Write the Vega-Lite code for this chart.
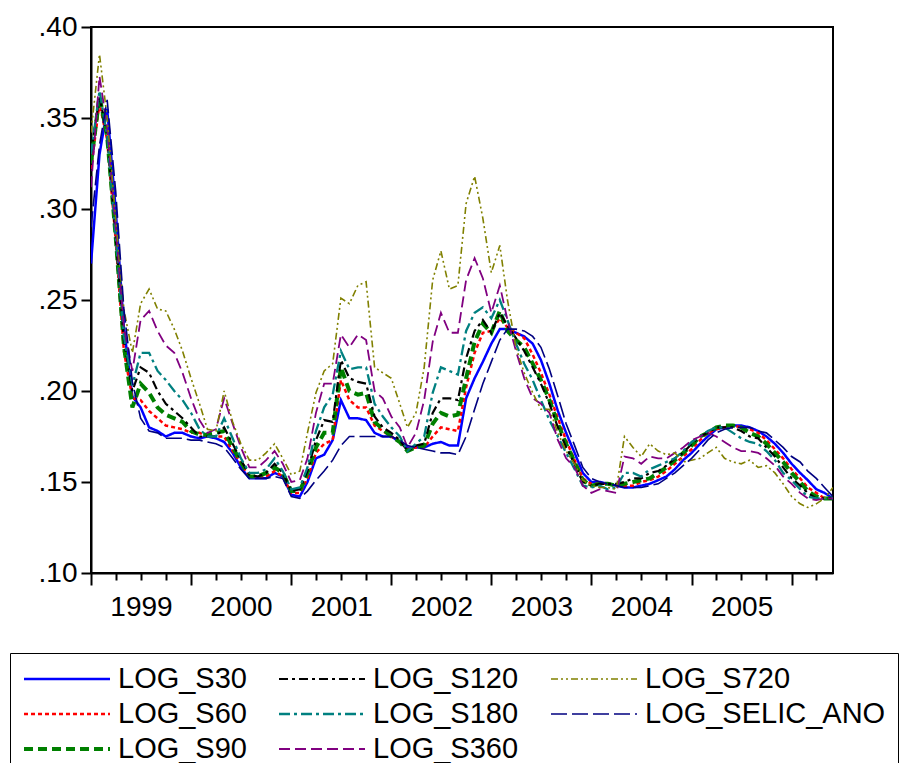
{
  "$schema": "https://vega.github.io/schema/vega-lite/v6.json",
  "width": 742,
  "height": 546,
  "autosize": "none",
  "padding": {"left": 91, "top": 27, "right": 70, "bottom": 190},
  "background": "white",
  "config": {
    "font": "Liberation Sans",
    "view": {"stroke": "black", "strokeWidth": 2},
    "axis": {"labelColor": "black", "tickColor": "black", "domainColor": "black", "labelFont": "Liberation Sans", "grid": false, "domainWidth": 2, "tickWidth": 2},
    "legend": {
      "orient": "none", "legendX": -81, "legendY": 626,
      "columns": 3, "strokeColor": "black", "padding": 12,
      "symbolType": "stroke", "symbolSize": 7396, "labelFontSize": 29, "labelFont": "Liberation Sans", "labelColor": "black",
      "labelOffset": 6, "columnPadding": 30, "rowPadding": 6, "clipHeight": 28, "labelLimit": 400
    }
  },
  "data": {"values": [
    {"date":"1999-01-01","LOG_S30":0.270,"LOG_S60":0.322,"LOG_S90":0.325,"LOG_S120":0.330,"LOG_S180":0.330,"LOG_S360":0.312,"LOG_S720":0.342,"LOG_SELIC_ANO":0.290},
    {"date":"1999-02-01","LOG_S30":0.330,"LOG_S60":0.358,"LOG_S90":0.362,"LOG_S120":0.362,"LOG_S180":0.365,"LOG_S360":0.373,"LOG_S720":0.385,"LOG_SELIC_ANO":0.335},
    {"date":"1999-03-01","LOG_S30":0.355,"LOG_S60":0.338,"LOG_S90":0.340,"LOG_S120":0.340,"LOG_S180":0.340,"LOG_S360":0.345,"LOG_S720":0.350,"LOG_SELIC_ANO":0.360},
    {"date":"1999-04-01","LOG_S30":0.300,"LOG_S60":0.283,"LOG_S90":0.285,"LOG_S120":0.285,"LOG_S180":0.285,"LOG_S360":0.290,"LOG_S720":0.295,"LOG_SELIC_ANO":0.310},
    {"date":"1999-05-01","LOG_S30":0.235,"LOG_S60":0.222,"LOG_S90":0.225,"LOG_S120":0.228,"LOG_S180":0.230,"LOG_S360":0.235,"LOG_S720":0.245,"LOG_SELIC_ANO":0.245},
    {"date":"1999-06-01","LOG_S30":0.197,"LOG_S60":0.196,"LOG_S90":0.191,"LOG_S120":0.200,"LOG_S180":0.203,"LOG_S360":0.211,"LOG_S720":0.221,"LOG_SELIC_ANO":0.205},
    {"date":"1999-07-01","LOG_S30":0.191,"LOG_S60":0.195,"LOG_S90":0.204,"LOG_S120":0.213,"LOG_S180":0.221,"LOG_S360":0.239,"LOG_S720":0.248,"LOG_SELIC_ANO":0.185},
    {"date":"1999-08-01","LOG_S30":0.180,"LOG_S60":0.189,"LOG_S90":0.199,"LOG_S120":0.210,"LOG_S180":0.221,"LOG_S360":0.244,"LOG_S720":0.256,"LOG_SELIC_ANO":0.178},
    {"date":"1999-09-01","LOG_S30":0.178,"LOG_S60":0.185,"LOG_S90":0.191,"LOG_S120":0.200,"LOG_S180":0.211,"LOG_S360":0.233,"LOG_S720":0.245,"LOG_SELIC_ANO":0.177},
    {"date":"1999-10-01","LOG_S30":0.175,"LOG_S60":0.181,"LOG_S90":0.187,"LOG_S120":0.193,"LOG_S180":0.206,"LOG_S360":0.225,"LOG_S720":0.244,"LOG_SELIC_ANO":0.174},
    {"date":"1999-11-01","LOG_S30":0.177,"LOG_S60":0.180,"LOG_S90":0.185,"LOG_S120":0.189,"LOG_S180":0.200,"LOG_S360":0.221,"LOG_S720":0.234,"LOG_SELIC_ANO":0.174},
    {"date":"1999-12-01","LOG_S30":0.177,"LOG_S60":0.179,"LOG_S90":0.183,"LOG_S120":0.185,"LOG_S180":0.195,"LOG_S360":0.210,"LOG_S720":0.222,"LOG_SELIC_ANO":0.174},
    {"date":"2000-01-01","LOG_S30":0.175,"LOG_S60":0.177,"LOG_S90":0.178,"LOG_S120":0.180,"LOG_S180":0.188,"LOG_S360":0.196,"LOG_S720":0.207,"LOG_SELIC_ANO":0.173},
    {"date":"2000-02-01","LOG_S30":0.174,"LOG_S60":0.177,"LOG_S90":0.176,"LOG_S120":0.175,"LOG_S180":0.179,"LOG_S360":0.184,"LOG_S720":0.193,"LOG_SELIC_ANO":0.173},
    {"date":"2000-03-01","LOG_S30":0.175,"LOG_S60":0.175,"LOG_S90":0.176,"LOG_S120":0.175,"LOG_S180":0.175,"LOG_S360":0.177,"LOG_S720":0.179,"LOG_SELIC_ANO":0.172},
    {"date":"2000-04-01","LOG_S30":0.174,"LOG_S60":0.175,"LOG_S90":0.177,"LOG_S120":0.175,"LOG_S180":0.175,"LOG_S360":0.179,"LOG_S720":0.178,"LOG_SELIC_ANO":0.171},
    {"date":"2000-05-01","LOG_S30":0.172,"LOG_S60":0.175,"LOG_S90":0.178,"LOG_S120":0.180,"LOG_S180":0.185,"LOG_S360":0.196,"LOG_S720":0.200,"LOG_SELIC_ANO":0.169},
    {"date":"2000-06-01","LOG_S30":0.166,"LOG_S60":0.167,"LOG_S90":0.169,"LOG_S120":0.171,"LOG_S180":0.174,"LOG_S360":0.182,"LOG_S720":0.183,"LOG_SELIC_ANO":0.163},
    {"date":"2000-07-01","LOG_S30":0.158,"LOG_S60":0.160,"LOG_S90":0.161,"LOG_S120":0.162,"LOG_S180":0.163,"LOG_S360":0.169,"LOG_S720":0.171,"LOG_SELIC_ANO":0.157},
    {"date":"2000-08-01","LOG_S30":0.152,"LOG_S60":0.153,"LOG_S90":0.153,"LOG_S120":0.154,"LOG_S180":0.155,"LOG_S360":0.158,"LOG_S720":0.162,"LOG_SELIC_ANO":0.152},
    {"date":"2000-09-01","LOG_S30":0.152,"LOG_S60":0.153,"LOG_S90":0.153,"LOG_S120":0.153,"LOG_S180":0.155,"LOG_S360":0.158,"LOG_S720":0.162,"LOG_SELIC_ANO":0.152},
    {"date":"2000-10-01","LOG_S30":0.152,"LOG_S60":0.153,"LOG_S90":0.155,"LOG_S120":0.155,"LOG_S180":0.157,"LOG_S360":0.162,"LOG_S720":0.166,"LOG_SELIC_ANO":0.152},
    {"date":"2000-11-01","LOG_S30":0.155,"LOG_S60":0.156,"LOG_S90":0.158,"LOG_S120":0.160,"LOG_S180":0.163,"LOG_S360":0.167,"LOG_S720":0.171,"LOG_SELIC_ANO":0.153},
    {"date":"2000-12-01","LOG_S30":0.153,"LOG_S60":0.153,"LOG_S90":0.155,"LOG_S120":0.155,"LOG_S180":0.156,"LOG_S360":0.160,"LOG_S720":0.163,"LOG_SELIC_ANO":0.152},
    {"date":"2001-01-01","LOG_S30":0.143,"LOG_S60":0.144,"LOG_S90":0.145,"LOG_S120":0.145,"LOG_S180":0.146,"LOG_S360":0.150,"LOG_S720":0.154,"LOG_SELIC_ANO":0.142},
    {"date":"2001-02-01","LOG_S30":0.142,"LOG_S60":0.144,"LOG_S90":0.145,"LOG_S120":0.146,"LOG_S180":0.147,"LOG_S360":0.151,"LOG_S720":0.156,"LOG_SELIC_ANO":0.141},
    {"date":"2001-03-01","LOG_S30":0.150,"LOG_S60":0.152,"LOG_S90":0.155,"LOG_S120":0.156,"LOG_S180":0.158,"LOG_S360":0.163,"LOG_S720":0.177,"LOG_SELIC_ANO":0.145},
    {"date":"2001-04-01","LOG_S30":0.163,"LOG_S60":0.166,"LOG_S90":0.169,"LOG_S120":0.173,"LOG_S180":0.178,"LOG_S360":0.188,"LOG_S720":0.199,"LOG_SELIC_ANO":0.151},
    {"date":"2001-05-01","LOG_S30":0.165,"LOG_S60":0.171,"LOG_S90":0.177,"LOG_S120":0.184,"LOG_S180":0.191,"LOG_S360":0.204,"LOG_S720":0.211,"LOG_SELIC_ANO":0.156},
    {"date":"2001-06-01","LOG_S30":0.173,"LOG_S60":0.173,"LOG_S90":0.177,"LOG_S120":0.183,"LOG_S180":0.198,"LOG_S360":0.204,"LOG_S720":0.215,"LOG_SELIC_ANO":0.162},
    {"date":"2001-07-01","LOG_S30":0.195,"LOG_S60":0.206,"LOG_S90":0.213,"LOG_S120":0.217,"LOG_S180":0.222,"LOG_S360":0.231,"LOG_S720":0.251,"LOG_SELIC_ANO":0.170},
    {"date":"2001-08-01","LOG_S30":0.185,"LOG_S60":0.195,"LOG_S90":0.200,"LOG_S120":0.207,"LOG_S180":0.212,"LOG_S360":0.224,"LOG_S720":0.248,"LOG_SELIC_ANO":0.175},
    {"date":"2001-09-01","LOG_S30":0.185,"LOG_S60":0.191,"LOG_S90":0.198,"LOG_S120":0.205,"LOG_S180":0.213,"LOG_S360":0.231,"LOG_S720":0.258,"LOG_SELIC_ANO":0.175},
    {"date":"2001-10-01","LOG_S30":0.184,"LOG_S60":0.191,"LOG_S90":0.199,"LOG_S120":0.204,"LOG_S180":0.213,"LOG_S360":0.228,"LOG_S720":0.260,"LOG_SELIC_ANO":0.175},
    {"date":"2001-11-01","LOG_S30":0.177,"LOG_S60":0.181,"LOG_S90":0.183,"LOG_S120":0.186,"LOG_S180":0.193,"LOG_S360":0.200,"LOG_S720":0.213,"LOG_SELIC_ANO":0.175},
    {"date":"2001-12-01","LOG_S30":0.175,"LOG_S60":0.178,"LOG_S90":0.179,"LOG_S120":0.180,"LOG_S180":0.186,"LOG_S360":0.196,"LOG_S720":0.210,"LOG_SELIC_ANO":0.175},
    {"date":"2002-01-01","LOG_S30":0.175,"LOG_S60":0.175,"LOG_S90":0.175,"LOG_S120":0.177,"LOG_S180":0.180,"LOG_S360":0.186,"LOG_S720":0.207,"LOG_SELIC_ANO":0.175},
    {"date":"2002-02-01","LOG_S30":0.172,"LOG_S60":0.172,"LOG_S90":0.172,"LOG_S120":0.173,"LOG_S180":0.175,"LOG_S360":0.180,"LOG_S720":0.193,"LOG_SELIC_ANO":0.173},
    {"date":"2002-03-01","LOG_S30":0.169,"LOG_S60":0.168,"LOG_S90":0.167,"LOG_S120":0.167,"LOG_S180":0.167,"LOG_S360":0.169,"LOG_S720":0.180,"LOG_SELIC_ANO":0.170},
    {"date":"2002-04-01","LOG_S30":0.169,"LOG_S60":0.169,"LOG_S90":0.169,"LOG_S120":0.170,"LOG_S180":0.171,"LOG_S360":0.177,"LOG_S720":0.188,"LOG_SELIC_ANO":0.169},
    {"date":"2002-05-01","LOG_S30":0.169,"LOG_S60":0.169,"LOG_S90":0.170,"LOG_S120":0.171,"LOG_S180":0.175,"LOG_S360":0.195,"LOG_S720":0.213,"LOG_SELIC_ANO":0.168},
    {"date":"2002-06-01","LOG_S30":0.171,"LOG_S60":0.175,"LOG_S90":0.182,"LOG_S120":0.188,"LOG_S180":0.199,"LOG_S360":0.227,"LOG_S720":0.261,"LOG_SELIC_ANO":0.167},
    {"date":"2002-07-01","LOG_S30":0.172,"LOG_S60":0.180,"LOG_S90":0.188,"LOG_S120":0.196,"LOG_S180":0.213,"LOG_S360":0.243,"LOG_S720":0.277,"LOG_SELIC_ANO":0.166},
    {"date":"2002-08-01","LOG_S30":0.170,"LOG_S60":0.179,"LOG_S90":0.186,"LOG_S120":0.196,"LOG_S180":0.211,"LOG_S360":0.232,"LOG_S720":0.256,"LOG_SELIC_ANO":0.166},
    {"date":"2002-09-01","LOG_S30":0.170,"LOG_S60":0.178,"LOG_S90":0.187,"LOG_S120":0.195,"LOG_S180":0.209,"LOG_S360":0.232,"LOG_S720":0.258,"LOG_SELIC_ANO":0.165},
    {"date":"2002-10-01","LOG_S30":0.196,"LOG_S60":0.202,"LOG_S90":0.207,"LOG_S120":0.218,"LOG_S180":0.233,"LOG_S360":0.261,"LOG_S720":0.303,"LOG_SELIC_ANO":0.175},
    {"date":"2002-11-01","LOG_S30":0.207,"LOG_S60":0.221,"LOG_S90":0.227,"LOG_S120":0.233,"LOG_S180":0.243,"LOG_S360":0.273,"LOG_S720":0.318,"LOG_SELIC_ANO":0.190},
    {"date":"2002-12-01","LOG_S30":0.216,"LOG_S60":0.232,"LOG_S90":0.237,"LOG_S120":0.239,"LOG_S180":0.246,"LOG_S360":0.262,"LOG_S720":0.295,"LOG_SELIC_ANO":0.204},
    {"date":"2003-01-01","LOG_S30":0.226,"LOG_S60":0.233,"LOG_S90":0.232,"LOG_S120":0.232,"LOG_S180":0.240,"LOG_S360":0.243,"LOG_S720":0.265,"LOG_SELIC_ANO":0.216},
    {"date":"2003-02-01","LOG_S30":0.234,"LOG_S60":0.240,"LOG_S90":0.244,"LOG_S120":0.243,"LOG_S180":0.250,"LOG_S360":0.258,"LOG_S720":0.280,"LOG_SELIC_ANO":0.228},
    {"date":"2003-03-01","LOG_S30":0.234,"LOG_S60":0.235,"LOG_S90":0.233,"LOG_S120":0.236,"LOG_S180":0.239,"LOG_S360":0.239,"LOG_S720":0.250,"LOG_SELIC_ANO":0.234},
    {"date":"2003-04-01","LOG_S30":0.232,"LOG_S60":0.232,"LOG_S90":0.228,"LOG_S120":0.229,"LOG_S180":0.226,"LOG_S360":0.222,"LOG_S720":0.224,"LOG_SELIC_ANO":0.234},
    {"date":"2003-05-01","LOG_S30":0.230,"LOG_S60":0.229,"LOG_S90":0.224,"LOG_S120":0.222,"LOG_S180":0.215,"LOG_S360":0.207,"LOG_S720":0.210,"LOG_SELIC_ANO":0.233},
    {"date":"2003-06-01","LOG_S30":0.226,"LOG_S60":0.220,"LOG_S90":0.215,"LOG_S120":0.213,"LOG_S180":0.206,"LOG_S360":0.196,"LOG_S720":0.199,"LOG_SELIC_ANO":0.230},
    {"date":"2003-07-01","LOG_S30":0.217,"LOG_S60":0.210,"LOG_S90":0.206,"LOG_S120":0.204,"LOG_S180":0.195,"LOG_S360":0.193,"LOG_S720":0.190,"LOG_SELIC_ANO":0.224},
    {"date":"2003-08-01","LOG_S30":0.204,"LOG_S60":0.198,"LOG_S90":0.195,"LOG_S120":0.193,"LOG_S180":0.184,"LOG_S360":0.188,"LOG_S720":0.190,"LOG_SELIC_ANO":0.212},
    {"date":"2003-09-01","LOG_S30":0.189,"LOG_S60":0.185,"LOG_S90":0.182,"LOG_S120":0.180,"LOG_S180":0.175,"LOG_S360":0.173,"LOG_S720":0.177,"LOG_SELIC_ANO":0.197},
    {"date":"2003-10-01","LOG_S30":0.177,"LOG_S60":0.173,"LOG_S90":0.171,"LOG_S120":0.169,"LOG_S180":0.166,"LOG_S360":0.163,"LOG_S720":0.167,"LOG_SELIC_ANO":0.182},
    {"date":"2003-11-01","LOG_S30":0.166,"LOG_S60":0.162,"LOG_S90":0.161,"LOG_S120":0.160,"LOG_S180":0.157,"LOG_S360":0.158,"LOG_S720":0.160,"LOG_SELIC_ANO":0.170},
    {"date":"2003-12-01","LOG_S30":0.155,"LOG_S60":0.152,"LOG_S90":0.151,"LOG_S120":0.150,"LOG_S180":0.148,"LOG_S360":0.148,"LOG_S720":0.151,"LOG_SELIC_ANO":0.158},
    {"date":"2004-01-01","LOG_S30":0.150,"LOG_S60":0.149,"LOG_S90":0.148,"LOG_S120":0.148,"LOG_S180":0.147,"LOG_S360":0.144,"LOG_S720":0.148,"LOG_SELIC_ANO":0.152},
    {"date":"2004-02-01","LOG_S30":0.150,"LOG_S60":0.149,"LOG_S90":0.149,"LOG_S120":0.149,"LOG_S180":0.148,"LOG_S360":0.146,"LOG_S720":0.147,"LOG_SELIC_ANO":0.150},
    {"date":"2004-03-01","LOG_S30":0.149,"LOG_S60":0.149,"LOG_S90":0.149,"LOG_S120":0.149,"LOG_S180":0.146,"LOG_S360":0.145,"LOG_S720":0.147,"LOG_SELIC_ANO":0.149},
    {"date":"2004-04-01","LOG_S30":0.148,"LOG_S60":0.148,"LOG_S90":0.148,"LOG_S120":0.149,"LOG_S180":0.147,"LOG_S360":0.144,"LOG_S720":0.146,"LOG_SELIC_ANO":0.148},
    {"date":"2004-05-01","LOG_S30":0.147,"LOG_S60":0.148,"LOG_S90":0.149,"LOG_S120":0.150,"LOG_S180":0.155,"LOG_S360":0.164,"LOG_S720":0.175,"LOG_SELIC_ANO":0.147},
    {"date":"2004-06-01","LOG_S30":0.147,"LOG_S60":0.148,"LOG_S90":0.150,"LOG_S120":0.152,"LOG_S180":0.155,"LOG_S360":0.163,"LOG_S720":0.169,"LOG_SELIC_ANO":0.147},
    {"date":"2004-07-01","LOG_S30":0.148,"LOG_S60":0.150,"LOG_S90":0.151,"LOG_S120":0.152,"LOG_S180":0.153,"LOG_S360":0.160,"LOG_S720":0.164,"LOG_SELIC_ANO":0.147},
    {"date":"2004-08-01","LOG_S30":0.149,"LOG_S60":0.151,"LOG_S90":0.152,"LOG_S120":0.155,"LOG_S180":0.157,"LOG_S360":0.164,"LOG_S720":0.171,"LOG_SELIC_ANO":0.148},
    {"date":"2004-09-01","LOG_S30":0.151,"LOG_S60":0.153,"LOG_S90":0.155,"LOG_S120":0.156,"LOG_S180":0.159,"LOG_S360":0.163,"LOG_S720":0.167,"LOG_SELIC_ANO":0.149},
    {"date":"2004-10-01","LOG_S30":0.153,"LOG_S60":0.156,"LOG_S90":0.158,"LOG_S120":0.159,"LOG_S180":0.161,"LOG_S360":0.163,"LOG_S720":0.165,"LOG_SELIC_ANO":0.152},
    {"date":"2004-11-01","LOG_S30":0.157,"LOG_S60":0.160,"LOG_S90":0.162,"LOG_S120":0.163,"LOG_S180":0.163,"LOG_S360":0.166,"LOG_S720":0.166,"LOG_SELIC_ANO":0.155},
    {"date":"2004-12-01","LOG_S30":0.162,"LOG_S60":0.164,"LOG_S90":0.166,"LOG_S120":0.166,"LOG_S180":0.167,"LOG_S360":0.169,"LOG_S720":0.161,"LOG_SELIC_ANO":0.159},
    {"date":"2005-01-01","LOG_S30":0.166,"LOG_S60":0.168,"LOG_S90":0.170,"LOG_S120":0.171,"LOG_S180":0.172,"LOG_S360":0.173,"LOG_S720":0.162,"LOG_SELIC_ANO":0.163},
    {"date":"2005-02-01","LOG_S30":0.171,"LOG_S60":0.173,"LOG_S90":0.175,"LOG_S120":0.175,"LOG_S180":0.175,"LOG_S360":0.175,"LOG_S720":0.163,"LOG_SELIC_ANO":0.168},
    {"date":"2005-03-01","LOG_S30":0.175,"LOG_S60":0.177,"LOG_S90":0.177,"LOG_S120":0.177,"LOG_S180":0.178,"LOG_S360":0.177,"LOG_S720":0.166,"LOG_SELIC_ANO":0.173},
    {"date":"2005-04-01","LOG_S30":0.179,"LOG_S60":0.179,"LOG_S90":0.180,"LOG_S120":0.180,"LOG_S180":0.180,"LOG_S360":0.175,"LOG_S720":0.169,"LOG_SELIC_ANO":0.177},
    {"date":"2005-05-01","LOG_S30":0.180,"LOG_S60":0.180,"LOG_S90":0.181,"LOG_S120":0.180,"LOG_S180":0.180,"LOG_S360":0.172,"LOG_S720":0.163,"LOG_SELIC_ANO":0.179},
    {"date":"2005-06-01","LOG_S30":0.181,"LOG_S60":0.181,"LOG_S90":0.181,"LOG_S120":0.180,"LOG_S180":0.177,"LOG_S360":0.169,"LOG_S720":0.161,"LOG_SELIC_ANO":0.180},
    {"date":"2005-07-01","LOG_S30":0.181,"LOG_S60":0.180,"LOG_S90":0.180,"LOG_S120":0.178,"LOG_S180":0.174,"LOG_S360":0.167,"LOG_S720":0.160,"LOG_SELIC_ANO":0.180},
    {"date":"2005-08-01","LOG_S30":0.180,"LOG_S60":0.179,"LOG_S90":0.177,"LOG_S120":0.175,"LOG_S180":0.172,"LOG_S360":0.167,"LOG_S720":0.162,"LOG_SELIC_ANO":0.180},
    {"date":"2005-09-01","LOG_S30":0.178,"LOG_S60":0.177,"LOG_S90":0.175,"LOG_S120":0.174,"LOG_S180":0.171,"LOG_S360":0.166,"LOG_S720":0.158,"LOG_SELIC_ANO":0.178},
    {"date":"2005-10-01","LOG_S30":0.175,"LOG_S60":0.173,"LOG_S90":0.171,"LOG_S120":0.169,"LOG_S180":0.167,"LOG_S360":0.163,"LOG_S720":0.159,"LOG_SELIC_ANO":0.177},
    {"date":"2005-11-01","LOG_S30":0.171,"LOG_S60":0.168,"LOG_S90":0.166,"LOG_S120":0.164,"LOG_S180":0.162,"LOG_S360":0.159,"LOG_S720":0.155,"LOG_SELIC_ANO":0.173},
    {"date":"2005-12-01","LOG_S30":0.166,"LOG_S60":0.163,"LOG_S90":0.161,"LOG_S120":0.158,"LOG_S180":0.155,"LOG_S360":0.153,"LOG_S720":0.149,"LOG_SELIC_ANO":0.169},
    {"date":"2006-01-01","LOG_S30":0.160,"LOG_S60":0.157,"LOG_S90":0.155,"LOG_S120":0.152,"LOG_S180":0.151,"LOG_S360":0.149,"LOG_S720":0.142,"LOG_SELIC_ANO":0.164},
    {"date":"2006-02-01","LOG_S30":0.155,"LOG_S60":0.152,"LOG_S90":0.150,"LOG_S120":0.148,"LOG_S180":0.146,"LOG_S360":0.144,"LOG_S720":0.138,"LOG_SELIC_ANO":0.161},
    {"date":"2006-03-01","LOG_S30":0.151,"LOG_S60":0.147,"LOG_S90":0.145,"LOG_S120":0.144,"LOG_S180":0.142,"LOG_S360":0.141,"LOG_S720":0.136,"LOG_SELIC_ANO":0.156},
    {"date":"2006-04-01","LOG_S30":0.146,"LOG_S60":0.144,"LOG_S90":0.142,"LOG_S120":0.141,"LOG_S180":0.141,"LOG_S360":0.140,"LOG_S720":0.138,"LOG_SELIC_ANO":0.152},
    {"date":"2006-05-01","LOG_S30":0.144,"LOG_S60":0.141,"LOG_S90":0.141,"LOG_S120":0.141,"LOG_S180":0.141,"LOG_S360":0.141,"LOG_S720":0.141,"LOG_SELIC_ANO":0.147},
    {"date":"2006-06-01","LOG_S30":0.141,"LOG_S60":0.141,"LOG_S90":0.141,"LOG_S120":0.141,"LOG_S180":0.141,"LOG_S360":0.141,"LOG_S720":0.147,"LOG_SELIC_ANO":0.142}
  ]},
  "transform": [
    {"fold": ["LOG_S30","LOG_S60","LOG_S90","LOG_S120","LOG_S180","LOG_S360","LOG_S720","LOG_SELIC_ANO"], "as": ["series","value"]}
  ],
  "mark": {"type": "line", "clip": true},
  "encoding": {
    "x": {
      "field": "date", "type": "temporal", "title": null,
      "scale": {"type": "utc", "domain": [{"year":1999,"month":1,"date":1,"utc":true},{"year":2006,"month":6,"date":1,"utc":true}]},
      "axis": {
        "values": [
          {"year":1999,"month":1,"date":1,"utc":true},{"year":1999,"month":4,"date":1,"utc":true},{"year":1999,"month":7,"date":1,"utc":true},{"year":1999,"month":10,"date":1,"utc":true},
          {"year":2000,"month":1,"date":1,"utc":true},{"year":2000,"month":4,"date":1,"utc":true},{"year":2000,"month":7,"date":1,"utc":true},{"year":2000,"month":10,"date":1,"utc":true},
          {"year":2001,"month":1,"date":1,"utc":true},{"year":2001,"month":4,"date":1,"utc":true},{"year":2001,"month":7,"date":1,"utc":true},{"year":2001,"month":10,"date":1,"utc":true},
          {"year":2002,"month":1,"date":1,"utc":true},{"year":2002,"month":4,"date":1,"utc":true},{"year":2002,"month":7,"date":1,"utc":true},{"year":2002,"month":10,"date":1,"utc":true},
          {"year":2003,"month":1,"date":1,"utc":true},{"year":2003,"month":4,"date":1,"utc":true},{"year":2003,"month":7,"date":1,"utc":true},{"year":2003,"month":10,"date":1,"utc":true},
          {"year":2004,"month":1,"date":1,"utc":true},{"year":2004,"month":4,"date":1,"utc":true},{"year":2004,"month":7,"date":1,"utc":true},{"year":2004,"month":10,"date":1,"utc":true},
          {"year":2005,"month":1,"date":1,"utc":true},{"year":2005,"month":4,"date":1,"utc":true},{"year":2005,"month":7,"date":1,"utc":true},{"year":2005,"month":10,"date":1,"utc":true},
          {"year":2006,"month":1,"date":1,"utc":true},{"year":2006,"month":4,"date":1,"utc":true}
        ],
        "tickSize": {"condition": {"test": "utcmonth(datum.value) === 0", "value": 12}, "value": 7},
        "labelExpr": "utcmonth(datum.value) === 0 && utcyear(datum.value) < 2006 ? '' + utcyear(datum.value) : ''",
        "labelOffset": 50,
        "labelFontSize": 28,
        "labelPadding": 8,
        "labelOverlap": false,
        "labelFlush": false,
        "labelBound": false
      }
    },
    "y": {
      "field": "value", "type": "quantitative", "title": null,
      "scale": {"domain": [0.1, 0.4], "nice": false, "zero": false},
      "axis": {
        "values": [0.1, 0.15, 0.2, 0.25, 0.3, 0.35, 0.4],
        "labelExpr": "substring(format(datum.value, '.2f'), 1)",
        "tickSize": 10,
        "labelFontSize": 28,
        "labelPadding": 4,
        "labelFlush": false
      }
    },
    "color": {
      "field": "series", "type": "nominal", "title": null,
      "scale": {
        "domain": ["LOG_S30","LOG_S60","LOG_S90","LOG_S120","LOG_S180","LOG_S360","LOG_S720","LOG_SELIC_ANO"],
        "range": ["#0000FF","#FF0000","#008000","#000000","#008080","#800080","#808000","#000080"]
      }
    },
    "strokeDash": {
      "field": "series", "type": "nominal", "title": null,
      "scale": {
        "domain": ["LOG_S30","LOG_S60","LOG_S90","LOG_S120","LOG_S180","LOG_S360","LOG_S720","LOG_SELIC_ANO"],
        "range": [[1,0],[4,3],[9,5],[9,4,3,4],[11,4,3,4],[11,5],[7,3,2,3,2,3],[16,5]]
      }
    },
    "strokeWidth": {
      "field": "series", "type": "nominal", "title": null,
      "scale": {
        "type": "ordinal",
        "domain": ["LOG_S30","LOG_S60","LOG_S90","LOG_S120","LOG_S180","LOG_S360","LOG_S720","LOG_SELIC_ANO"],
        "range": [2.5, 2.5, 4, 2.2, 2.3, 1.8, 1.6, 1.6]
      }
    }
  }
}
